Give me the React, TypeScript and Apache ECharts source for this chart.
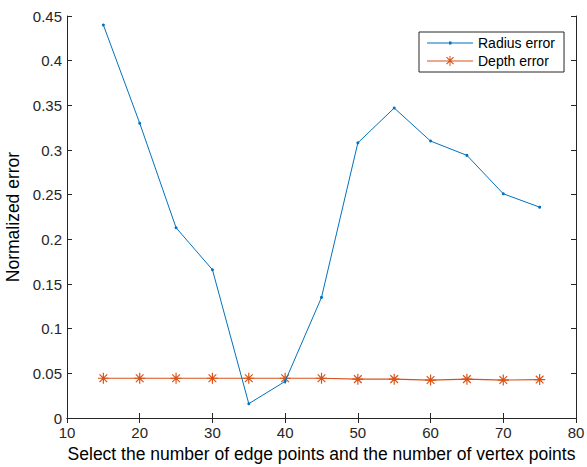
import React, { useEffect, useRef } from "react";
import * as echarts from "echarts";

const xValues = [15, 20, 25, 30, 35, 40, 45, 50, 55, 60, 65, 70, 75];
const radiusError = [0.44, 0.33, 0.213, 0.166, 0.016, 0.041, 0.135, 0.308, 0.347, 0.31, 0.294, 0.251, 0.236];
const depthError = [0.0445, 0.0445, 0.0445, 0.0445, 0.0445, 0.0445, 0.0445, 0.0435, 0.0435, 0.0425, 0.0435, 0.0425, 0.043];
const seriesNames = ["Radius error", "Depth error"];
const xAxisTitle = "Select the number of edge points and the number of vertex points";
const yAxisTitle = "Normalized error";

const AXIS = "#262626";
const BLUE = "#0072BD";
const ORANGE = "#D95319";
const FONT = "'Liberation Sans', Arial, sans-serif";
const asterisk = "path://M0,-10 L0,10 M-10,0 L10,0 M-7,-7 L7,7 M-7,7 L7,-7";
const radiusIcon = "path://M0,4.5 H46 V5.5 H0 Z M22,3.5 H24.5 V6.5 H22 Z";
const depthIcon =
  "path://M0,4.4 H46 V5.6 H0 Z M22.5,0 H23.5 V10 H22.5 Z M18,4.5 H28 V5.5 H18 Z " +
  "M19.1,1.6 L19.9,0.8 L26.9,7.8 L26.1,8.6 Z M26.1,0.8 L26.9,1.6 L19.9,8.6 L19.1,7.8 Z";

export default function App() {
  const ref = useRef<HTMLDivElement>(null);
  useEffect(() => {
    if (!ref.current) return;
    const chart = echarts.init(ref.current, undefined, { renderer: "svg" });
    const axisLine = { show: true, lineStyle: { color: AXIS, width: 1 } };
    const axisTick = { show: true, inside: true, length: 5, lineStyle: { color: AXIS } };
    chart.setOption({
      animation: false,
      backgroundColor: "#fff",
      textStyle: { fontFamily: FONT },
      grid: {
        left: 67,
        right: 11,
        top: 16,
        bottom: 49,
        containLabel: false,
        outerBoundsMode: "none",
      },
      legend: {
        orient: "vertical",
        left: 419,
        top: 32,
        padding: [4, 9, 4, 8],
        itemWidth: 46,
        itemHeight: 10,
        itemGap: 4,
        backgroundColor: "#fff",
        borderColor: AXIS,
        borderWidth: 1,
        borderRadius: 0,
        textStyle: { fontSize: 14, color: "#000", fontFamily: FONT },
        data: [
          { name: seriesNames[0], icon: radiusIcon, itemStyle: { color: BLUE, borderWidth: 0 } },
          { name: seriesNames[1], icon: depthIcon, itemStyle: { color: ORANGE, borderWidth: 0 } },
        ],
      },
      xAxis: [
        {
          type: "value",
          min: 10,
          max: 80,
          interval: 10,
          axisLine,
          axisTick,
          splitLine: { show: false },
          axisLabel: { color: AXIS, fontSize: 15, margin: 7, fontFamily: FONT },
          name: xAxisTitle,
          nameLocation: "middle",
          nameGap: 27,
          nameTextStyle: { color: "#000", fontSize: 17.5, fontFamily: FONT },
        },
        {
          type: "value",
          position: "top",
          min: 10,
          max: 80,
          interval: 10,
          axisLine,
          axisTick,
          splitLine: { show: false },
          axisLabel: { show: false },
        },
      ],
      yAxis: [
        {
          type: "value",
          min: 0,
          max: 0.45,
          interval: 0.05,
          axisLine,
          axisTick,
          splitLine: { show: false },
          axisLabel: { color: AXIS, fontSize: 15, margin: 5, fontFamily: FONT },
          name: yAxisTitle,
          nameLocation: "middle",
          nameGap: 39,
          nameTextStyle: { color: "#000", fontSize: 17.5, fontFamily: FONT },
        },
        {
          type: "value",
          position: "right",
          min: 0,
          max: 0.45,
          interval: 0.05,
          axisLine,
          axisTick,
          splitLine: { show: false },
          axisLabel: { show: false },
        },
      ],
      series: [
        {
          name: seriesNames[0],
          type: "line",
          data: xValues.map((x, i) => [x, radiusError[i]]),
          symbol: "circle",
          symbolSize: 3,
          showAllSymbol: true,
          lineStyle: { color: BLUE, width: 1 },
          itemStyle: { color: BLUE },
          z: 3,
        },
        {
          name: seriesNames[1],
          type: "line",
          data: xValues.map((x, i) => [x, depthError[i]]),
          symbol: asterisk,
          symbolSize: 11,
          showAllSymbol: true,
          lineStyle: { color: ORANGE, width: 1.2 },
          itemStyle: { color: ORANGE, borderColor: ORANGE, borderWidth: 1.2 },
          z: 2,
        },
      ],
    });
    return () => chart.dispose();
  }, []);
  return (
    <div
      ref={ref}
      style={{ position: "fixed", left: 0, top: 0, width: 587, height: 467 }}
    />
  );
}
